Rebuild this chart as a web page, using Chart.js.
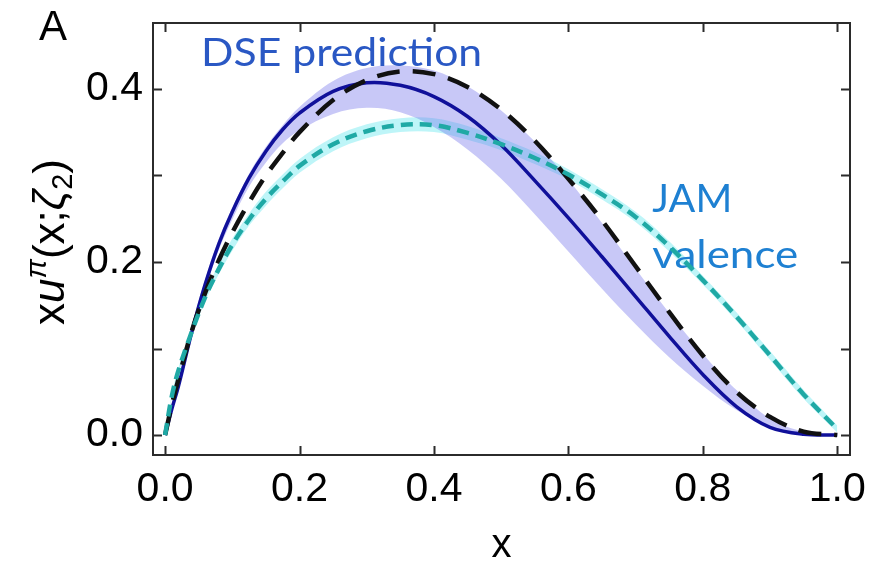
<!DOCTYPE html>
<html lang="en">
<head>
<meta charset="UTF-8">
<title>Pion valence distribution: DSE prediction vs JAM</title>
<script src="https://cdn.jsdelivr.net/npm/chart.js@4.4.1/dist/chart.umd.min.js"></script>
<style>
  html, body { margin: 0; padding: 0; background: #fff; }
  canvas { display: block; }
</style>
</head>
<body>
<canvas id="pdfChart" width="889" height="570"></canvas>
<script>
// x grid shared by every curve
var xs      = [0, 0.01, 0.02, 0.04, 0.06, 0.08, 0.1, 0.125, 0.15, 0.175, 0.2, 0.25, 0.3, 0.35, 0.4, 0.45, 0.5, 0.55, 0.6, 0.65, 0.7, 0.75, 0.8, 0.85, 0.9, 0.95, 1.0];

// DSE prediction (solid) and its band
var dseMid  = [0, 0.030, 0.057, 0.120, 0.175, 0.221, 0.258, 0.297, 0.328, 0.353, 0.372, 0.397, 0.407, 0.404, 0.391, 0.368, 0.335, 0.294, 0.251, 0.206, 0.160, 0.114, 0.070, 0.033, 0.009, 0.001, 0];
var dseHi   = [0, 0.034, 0.062, 0.127, 0.181, 0.227, 0.263, 0.302, 0.333, 0.358, 0.379, 0.409, 0.424, 0.427, 0.421, 0.403, 0.375, 0.339, 0.295, 0.245, 0.192, 0.141, 0.094, 0.052, 0.019, 0.004, 0];
var dseLo   = [0, 0.026, 0.052, 0.114, 0.168, 0.214, 0.249, 0.287, 0.315, 0.337, 0.352, 0.371, 0.378, 0.373, 0.356, 0.330, 0.296, 0.255, 0.212, 0.169, 0.128, 0.090, 0.057, 0.029, 0.010, 0.002, 0];

// black dashed curve
var blackRef = [0, 0.035, 0.065, 0.121, 0.165, 0.202, 0.234, 0.269, 0.300, 0.326, 0.350, 0.387, 0.410, 0.420, 0.417, 0.402, 0.376, 0.340, 0.296, 0.248, 0.195, 0.142, 0.092, 0.050, 0.021, 0.004, 0];

// JAM valence (teal dashed) and its narrow band
var jamMid  = [0, 0.045, 0.075, 0.120, 0.160, 0.192, 0.220, 0.249, 0.273, 0.293, 0.311, 0.336, 0.351, 0.358, 0.358, 0.349, 0.336, 0.320, 0.301, 0.278, 0.252, 0.218, 0.179, 0.137, 0.092, 0.047, 0.007];
var jamHi   = [0, 0.047, 0.078, 0.124, 0.165, 0.198, 0.227, 0.256, 0.281, 0.301, 0.319, 0.344, 0.359, 0.366, 0.366, 0.357, 0.343, 0.327, 0.307, 0.284, 0.258, 0.224, 0.184, 0.142, 0.097, 0.052, 0.011];
var jamLo   = [0, 0.043, 0.072, 0.116, 0.155, 0.186, 0.213, 0.242, 0.265, 0.285, 0.303, 0.328, 0.343, 0.350, 0.350, 0.341, 0.329, 0.313, 0.295, 0.272, 0.246, 0.212, 0.174, 0.132, 0.087, 0.042, 0.003];

var xTickVals = [0, 0.2, 0.4, 0.6, 0.8, 1.0];
var yTickVals = [0, 0.1, 0.2, 0.3, 0.4];

var FONT = "'Liberation Sans', Arial, sans-serif";

function pts(ys) {
  return xs.map(function (x, i) { return { x: x, y: ys[i] }; });
}

function line(label, ys, color, width, dash) {
  return {
    label: label, data: pts(ys), borderColor: color, borderWidth: width,
    borderDash: dash || [], pointRadius: 0, fill: false,
    tension: 0.35, borderCapStyle: 'butt'
  };
}

function band(label, ys, color, fill) {
  return {
    label: label, data: pts(ys), borderColor: 'rgba(0,0,0,0)', borderWidth: 0,
    pointRadius: 0, fill: fill, backgroundColor: color, tension: 0.35
  };
}

// frame, inward ticks, y title, panel letter and curve notes
var decor = {
  id: 'decor',
  beforeDatasetsDraw: function (chart) {
    var c = chart.ctx, xS = chart.scales.x, yS = chart.scales.y;
    var notes = [
      { text: 'DSE prediction', x: 0.0536, y: 0.4266, color: '#2a58c4', w: 281 },
      { text: 'JAM', x: 0.7247, y: 0.2578, color: '#1e80d2', w: 80 },
      { text: 'valence', x: 0.7247, y: 0.193, color: '#1e80d2', w: 146 }
    ];
    c.save();
    c.font = "38px Lato, 'Open Sans', sans-serif";
    c.textBaseline = 'alphabetic';
    notes.forEach(function (n) {
      var px = xS.getPixelForValue(n.x), py = yS.getPixelForValue(n.y);
      var mw = c.measureText(n.text).width;
      c.save();
      c.translate(px, py);
      c.scale(n.w / mw, 1);
      c.fillStyle = n.color;
      c.fillText(n.text, 0, 0);
      c.restore();
    });
    c.restore();
  },
  afterDraw: function (chart) {
    var c = chart.ctx, a = chart.chartArea, xS = chart.scales.x, yS = chart.scales.y;
    c.save();
    c.strokeStyle = '#2b2b2b';
    c.lineWidth = 2;
    c.strokeRect(a.left, a.top, a.right - a.left, a.bottom - a.top);
    c.beginPath();
    xTickVals.forEach(function (v) {
      var p = Math.round(xS.getPixelForValue(v)) + 0.5;
      c.moveTo(p, a.bottom); c.lineTo(p, a.bottom - 9);
      c.moveTo(p, a.top); c.lineTo(p, a.top + 9);
    });
    yTickVals.forEach(function (v) {
      var p = Math.round(yS.getPixelForValue(v)) + 0.5;
      c.moveTo(a.left, p); c.lineTo(a.left + 9, p);
      c.moveTo(a.right, p); c.lineTo(a.right - 9, p);
    });
    c.stroke();

    // panel letter
    c.fillStyle = '#000';
    c.font = '42px ' + FONT;
    c.textBaseline = 'alphabetic';
    c.fillText('A', 39, 40);

    // y axis title: x u^pi (x; zeta_2)
    var parts = [
      { t: 'x', f: '44px ' + FONT, dy: 0 },
      { t: 'u', f: 'italic 44px ' + FONT, dy: 0 },
      { t: '\u03c0', f: 'italic 29px ' + FONT, dy: -18 },
      { t: '(x;', f: '44px ' + FONT, dy: 0 },
      { t: '\u03b6', f: 'italic 44px ' + FONT, dy: 0 },
      { t: '2', f: '29px ' + FONT, dy: 8 },
      { t: ')', f: '44px ' + FONT, dy: 0 }
    ];
    var total = 0;
    parts.forEach(function (p) { c.font = p.f; p.w = c.measureText(p.t).width; total += p.w; });
    c.translate(64, 242);
    c.rotate(-Math.PI / 2);
    var cx = -total / 2;
    parts.forEach(function (p) {
      c.font = p.f;
      c.fillText(p.t, cx, p.dy);
      cx += p.w;
    });
    c.restore();
  }
};

new Chart(document.getElementById('pdfChart').getContext('2d'), {
  type: 'line',
  data: {
    datasets: [
      line('JAM valence', jamMid, '#1fa9a5', 4.5, [12, 7]),
      line('black dashed', blackRef, '#111111', 4.5, [23, 13]),
      line('DSE prediction', dseMid, '#10109a', 3.5),
      band('DSE upper', dseHi, 'rgba(110,110,235,0.38)', '+1'),
      band('DSE lower', dseLo, 'rgba(0,0,0,0)', false),
      band('JAM upper', jamHi, 'rgba(100,230,238,0.42)', '+1'),
      band('JAM lower', jamLo, 'rgba(0,0,0,0)', false)
    ]
  },
  options: {
    responsive: false,
    animation: false,
    devicePixelRatio: 1,
    layout: { padding: { left: 0, right: 39, top: 23, bottom: 0 } },
    plugins: {
      legend: { display: false },
      tooltip: { enabled: false },
      filler: { drawTime: 'beforeDatasetsDraw' }
    },
    scales: {
      x: {
        type: 'linear', min: -0.018, max: 1.019,
        afterBuildTicks: function (s) { s.ticks = xTickVals.map(function (v) { return { value: v }; }); },
        afterFit: function (s) { s.height = 115; },
        grid: { display: false, drawTicks: false },
        border: { display: false },
        ticks: {
          color: '#000', padding: 10, maxRotation: 0, autoSkip: false,
          font: { family: FONT, size: 41 },
          callback: function (v) { return v.toFixed(1); }
        },
        title: {
          display: true, text: 'x', color: '#000',
          font: { family: FONT, size: 40 }, padding: { top: 0, bottom: 0 }
        }
      },
      y: {
        type: 'linear', min: -0.023, max: 0.476,
        afterBuildTicks: function (s) { s.ticks = yTickVals.map(function (v) { return { value: v }; }); },
        afterFit: function (s) { s.width = 153; },
        grid: { display: false, drawTicks: false },
        border: { display: false },
        ticks: {
          color: '#000', padding: 10, autoSkip: false,
          font: { family: FONT, size: 41, lineHeight: 0.6 },
          callback: function (v) { return Math.round(v * 10) % 2 === 0 ? v.toFixed(1) : ''; }
        }
      }
    }
  },
  plugins: [decor]
});
</script>
</body>
</html>
